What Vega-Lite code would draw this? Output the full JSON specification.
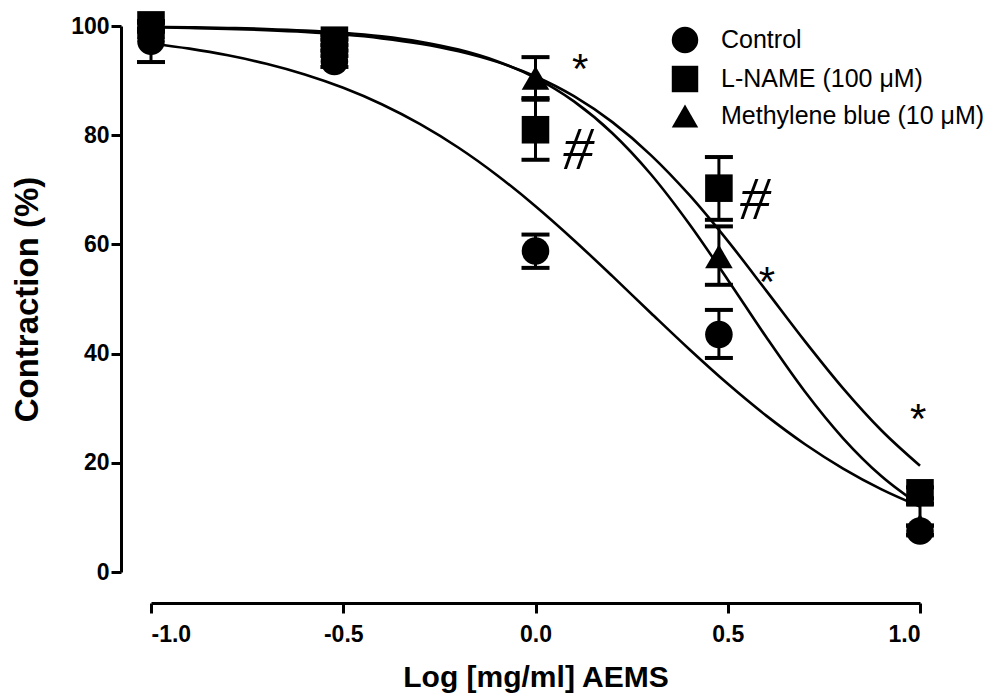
{
  "$schema": "https://vega.github.io/schema/vega-lite/v6.json",
  "width": 769,
  "height": 546,
  "autosize": {"type": "none"},
  "padding": {"left": 151, "top": 26, "right": 75, "bottom": 126},
  "background": "white",
  "config": {
    "view": {"stroke": null},
    "font": "Liberation Sans",
    "axis": {
      "domainColor": "black", "domainWidth": 3, "tickColor": "black", "tickWidth": 3, "tickSize": 10,
      "labelColor": "black", "labelFont": "Liberation Sans", "labelFontWeight": "bold", "labelFontSize": 23,
      "titleColor": "black", "titleFont": "Liberation Sans", "titleFontWeight": "bold", "grid": false
    }
  },
  "datasets": {
    "curves": [
      {"group": "Control", "x": -1.0, "y": 96.80}, {"group": "Control", "x": -0.9, "y": 95.85}, {"group": "Control", "x": -0.8, "y": 94.63},
      {"group": "Control", "x": -0.7, "y": 93.08}, {"group": "Control", "x": -0.6, "y": 91.12}, {"group": "Control", "x": -0.5, "y": 88.68},
      {"group": "Control", "x": -0.4, "y": 85.67}, {"group": "Control", "x": -0.3, "y": 82.02}, {"group": "Control", "x": -0.2, "y": 77.70},
      {"group": "Control", "x": -0.1, "y": 72.67}, {"group": "Control", "x": 0.0, "y": 66.99}, {"group": "Control", "x": 0.1, "y": 60.77},
      {"group": "Control", "x": 0.2, "y": 54.18}, {"group": "Control", "x": 0.3, "y": 47.44}, {"group": "Control", "x": 0.4, "y": 40.79},
      {"group": "Control", "x": 0.5, "y": 34.46}, {"group": "Control", "x": 0.6, "y": 28.64}, {"group": "Control", "x": 0.7, "y": 23.45},
      {"group": "Control", "x": 0.8, "y": 18.95}, {"group": "Control", "x": 0.9, "y": 15.14}, {"group": "Control", "x": 1.0, "y": 11.99},
      {"group": "L-NAME", "x": -1.0, "y": 99.75}, {"group": "L-NAME", "x": -0.9, "y": 99.64}, {"group": "L-NAME", "x": -0.8, "y": 99.48},
      {"group": "L-NAME", "x": -0.7, "y": 99.24}, {"group": "L-NAME", "x": -0.6, "y": 98.91}, {"group": "L-NAME", "x": -0.5, "y": 98.43},
      {"group": "L-NAME", "x": -0.4, "y": 97.74}, {"group": "L-NAME", "x": -0.3, "y": 96.76}, {"group": "L-NAME", "x": -0.2, "y": 95.37},
      {"group": "L-NAME", "x": -0.1, "y": 93.43}, {"group": "L-NAME", "x": 0.0, "y": 90.76}, {"group": "L-NAME", "x": 0.1, "y": 87.15},
      {"group": "L-NAME", "x": 0.2, "y": 82.39}, {"group": "L-NAME", "x": 0.3, "y": 76.36}, {"group": "L-NAME", "x": 0.4, "y": 69.05},
      {"group": "L-NAME", "x": 0.5, "y": 60.64}, {"group": "L-NAME", "x": 0.6, "y": 51.54}, {"group": "L-NAME", "x": 0.7, "y": 42.34},
      {"group": "L-NAME", "x": 0.8, "y": 33.64}, {"group": "L-NAME", "x": 0.9, "y": 25.92}, {"group": "L-NAME", "x": 1.0, "y": 19.46},
      {"group": "MB", "x": -1.0, "y": 99.85}, {"group": "MB", "x": -0.9, "y": 99.77}, {"group": "MB", "x": -0.8, "y": 99.64},
      {"group": "MB", "x": -0.7, "y": 99.46}, {"group": "MB", "x": -0.6, "y": 99.18}, {"group": "MB", "x": -0.5, "y": 98.75},
      {"group": "MB", "x": -0.4, "y": 98.10}, {"group": "MB", "x": -0.3, "y": 97.13}, {"group": "MB", "x": -0.2, "y": 95.69},
      {"group": "MB", "x": -0.1, "y": 93.56}, {"group": "MB", "x": 0.0, "y": 90.50}, {"group": "MB", "x": 0.1, "y": 86.19},
      {"group": "MB", "x": 0.2, "y": 80.36}, {"group": "MB", "x": 0.3, "y": 72.85}, {"group": "MB", "x": 0.4, "y": 63.74},
      {"group": "MB", "x": 0.5, "y": 53.54}, {"group": "MB", "x": 0.6, "y": 43.03}, {"group": "MB", "x": 0.7, "y": 33.10},
      {"group": "MB", "x": 0.8, "y": 24.49}, {"group": "MB", "x": 0.9, "y": 17.53}, {"group": "MB", "x": 1.0, "y": 12.23}
    ],
    "points": [
      {"group": "Control", "x": -1.0, "y": 97.2, "lo": 93.4, "hi": 99.0},
      {"group": "Control", "x": -0.523, "y": 93.5, "lo": 92.5, "hi": 94.5},
      {"group": "Control", "x": 0.0, "y": 58.8, "lo": 55.7, "hi": 61.8},
      {"group": "Control", "x": 0.477, "y": 43.5, "lo": 39.2, "hi": 48.0},
      {"group": "Control", "x": 1.0, "y": 7.5, "lo": 6.8, "hi": 12.5},
      {"group": "L-NAME (100 μM)", "x": -1.0, "y": 100.2, "lo": 99.5, "hi": 100.9},
      {"group": "L-NAME (100 μM)", "x": -0.523, "y": 97.4, "lo": 96.5, "hi": 98.3},
      {"group": "L-NAME (100 μM)", "x": 0.0, "y": 81.0, "lo": 75.5, "hi": 86.5},
      {"group": "L-NAME (100 μM)", "x": 0.477, "y": 70.3, "lo": 64.5, "hi": 76.0},
      {"group": "L-NAME (100 μM)", "x": 1.0, "y": 14.5, "lo": 13.5, "hi": 15.5},
      {"group": "Methylene blue (10 μM)", "x": -1.0, "y": 99.8, "lo": 99.0, "hi": 100.6},
      {"group": "Methylene blue (10 μM)", "x": -0.523, "y": 96.5, "lo": 95.5, "hi": 97.5},
      {"group": "Methylene blue (10 μM)", "x": 0.0, "y": 90.5, "lo": 86.8, "hi": 94.3},
      {"group": "Methylene blue (10 μM)", "x": 0.477, "y": 57.8, "lo": 52.6, "hi": 63.3},
      {"group": "Methylene blue (10 μM)", "x": 1.0, "y": 8.5, "lo": 8.5, "hi": 8.5}
    ],
    "notes": [
      {"label": "*", "x": 0.116, "y": 93.4, "kind": "star"},
      {"label": "*", "x": 0.602, "y": 54.4, "kind": "star"},
      {"label": "*", "x": 0.995, "y": 29.3, "kind": "star"},
      {"label": "#", "x": 0.111, "y": 77.3, "kind": "hash"},
      {"label": "#", "x": 0.571, "y": 68.1, "kind": "hash"}
    ]
  },
  "layer": [
    {
      "data": {"name": "curves"},
      "mark": {"type": "line", "color": "black", "strokeWidth": 2.6, "interpolate": "monotone"},
      "encoding": {
        "x": {"field": "x", "type": "quantitative", "scale": {"domain": [-1, 1], "nice": false},
          "axis": {"values": [-1, -0.5, 0, 0.5, 1], "offset": 31, "labelPadding": 10,
            "labelExpr": "datum.value < 0 ? '-' + format(-datum.value, '.1f') : format(datum.value, '.1f')",
            "title": "Log [mg/ml] AEMS", "titleFontSize": 30, "titlePadding": 16}},
        "y": {"field": "y", "type": "quantitative", "scale": {"domain": [0, 100], "nice": false},
          "axis": {"values": [0, 20, 40, 60, 80, 100], "offset": 30, "labelPadding": 2, "format": "d",
            "title": "Contraction (%)", "titleFontSize": 33, "titlePadding": 26}},
        "detail": {"field": "group"}
      }
    },
    {
      "data": {"name": "points"},
      "mark": {"type": "rule", "color": "black", "strokeWidth": 3},
      "encoding": {
        "x": {"field": "x", "type": "quantitative"},
        "y": {"field": "lo", "type": "quantitative"},
        "y2": {"field": "hi"}
      }
    },
    {
      "data": {"name": "points"},
      "mark": {"type": "tick", "color": "black", "orient": "horizontal", "size": 28, "thickness": 4, "opacity": 1},
      "encoding": {
        "x": {"field": "x", "type": "quantitative"},
        "y": {"field": "lo", "type": "quantitative"}
      }
    },
    {
      "data": {"name": "points"},
      "mark": {"type": "tick", "color": "black", "orient": "horizontal", "size": 28, "thickness": 4, "opacity": 1},
      "encoding": {
        "x": {"field": "x", "type": "quantitative"},
        "y": {"field": "hi", "type": "quantitative"}
      }
    },
    {
      "data": {"name": "points"},
      "mark": {"type": "point", "filled": true, "color": "black", "opacity": 1, "size": 760},
      "encoding": {
        "x": {"field": "x", "type": "quantitative"},
        "y": {"field": "y", "type": "quantitative"},
        "shape": {"field": "group", "type": "nominal",
          "scale": {"domain": ["Control", "L-NAME (100 μM)", "Methylene blue (10 μM)"], "range": ["circle", "square", "triangle-up"]},
          "legend": {"title": null, "orient": "none", "legendX": 520, "legendY": 0, "padding": 0,
            "symbolSize": 700, "symbolFillColor": "black", "symbolStrokeColor": "black", "symbolOpacity": 1,
            "labelFontSize": 25, "labelFont": "Liberation Sans", "labelColor": "black", "labelOffset": 22, "rowPadding": 5, "labelLimit": 400}}
      }
    },
    {
      "data": {"name": "notes"},
      "transform": [{"filter": "datum.kind == 'star'"}],
      "mark": {"type": "text", "font": "Liberation Sans", "fontSize": 42, "color": "black", "baseline": "middle", "dy": 8},
      "encoding": {
        "x": {"field": "x", "type": "quantitative"},
        "y": {"field": "y", "type": "quantitative"},
        "text": {"field": "label"}
      }
    },
    {
      "data": {"name": "notes"},
      "transform": [{"filter": "datum.kind == 'hash'"}],
      "mark": {"type": "text", "font": "Liberation Serif", "fontStyle": "italic", "fontSize": 62, "color": "black", "baseline": "middle"},
      "encoding": {
        "x": {"field": "x", "type": "quantitative"},
        "y": {"field": "y", "type": "quantitative"},
        "text": {"field": "label"}
      }
    }
  ]
}
